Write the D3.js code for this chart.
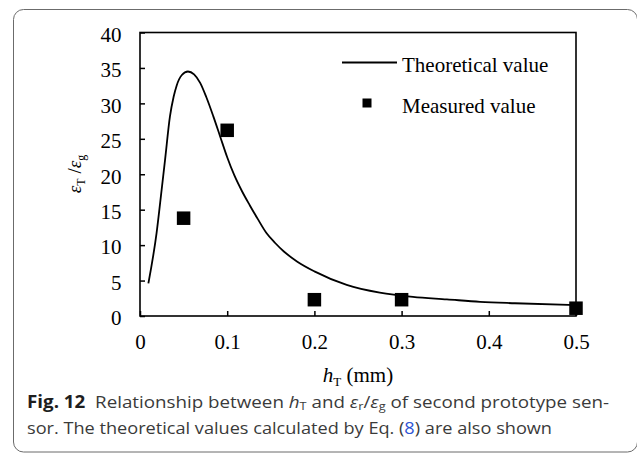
<!DOCTYPE html>
<html>
<head>
<meta charset="utf-8">
<script src="https://cdn.jsdelivr.net/npm/d3@7"></script>
<style>
  html, body { margin: 0; padding: 0; background: #fff; }
  svg { display: block; }
</style>
</head>
<body>
<script>
// Axis ticks
const xTicks = [0, 0.1, 0.2, 0.3, 0.4, 0.5];
const yTicks = [0, 5, 10, 15, 20, 25, 30, 35, 40];

// Theoretical curve (h_T in mm, strain ratio)
const theoryX = [0.0096, 0.019, 0.0248, 0.0287, 0.0344, 0.0385, 0.042, 0.048, 0.055, 0.062, 0.069, 0.076, 0.084, 0.092, 0.100, 0.108, 0.117, 0.126, 0.135, 0.145, 0.155, 0.165, 0.180, 0.200, 0.237, 0.275, 0.313, 0.352, 0.390, 0.430, 0.500];
const theoryY = [4.6, 11.7, 17.8, 22.0, 28.2, 30.9, 32.5, 34.0, 34.5, 34.1, 32.9, 30.9, 28.2, 25.3, 22.4, 19.9, 17.6, 15.6, 13.7, 11.7, 10.3, 9.1, 7.7, 6.3, 4.4, 3.3, 2.7, 2.35, 2.0, 1.8, 1.55];

// Measured values
const measuredX = [0.05, 0.1, 0.2, 0.3, 0.5];
const measuredY = [13.8, 26.2, 2.3, 2.3, 1.1];

// Legend entries
const legendLabels = ["Theoretical value", "Measured value"];

const W = 637, H = 453;
const serif = "'Liberation Serif', 'Times New Roman', serif";
const sans = "'Open Sans', 'Noto Sans', sans-serif";

const svg = d3.select("body").append("svg")
  .attr("width", W).attr("height", H);

// Card outline
svg.append("rect")
  .attr("x", 13.5).attr("y", 9.5)
  .attr("width", 624).attr("height", 442.5)
  .attr("rx", 10).attr("ry", 10)
  .attr("fill", "#fff").attr("stroke", "#6b6b6b").attr("stroke-width", 1);

const plot = { left: 140, right: 576, top: 32.5, bottom: 316 };

const x = d3.scaleLinear().domain([0, 0.5]).range([plot.left, plot.right]);
const y = d3.scaleLinear().domain([0, 40]).range([plot.bottom, plot.top]);

// Y axis
const yAxis = svg.append("g")
  .attr("transform", `translate(${plot.left},0)`)
  .call(d3.axisLeft(y).tickValues(yTicks).tickSize(-5).tickPadding(18.5).tickFormat(d3.format("d")));
yAxis.select(".domain").remove();
yAxis.selectAll(".tick line").attr("stroke", "#000").attr("stroke-width", 1.5);
yAxis.selectAll(".tick text")
  .attr("font-family", serif).attr("font-size", 21).attr("fill", "#000")
  .attr("dy", "0.42em");

// X axis
const xAxis = svg.append("g")
  .attr("transform", `translate(0,${plot.bottom})`)
  .call(d3.axisBottom(x).tickValues(xTicks).tickSize(-5).tickPadding(18.5)
    .tickFormat(d => d === 0 ? "0" : d3.format(".1f")(d)));
xAxis.select(".domain").remove();
xAxis.selectAll(".tick line").attr("stroke", "#000").attr("stroke-width", 1.5);
xAxis.selectAll(".tick text")
  .attr("font-family", serif).attr("font-size", 21).attr("fill", "#000");

// Plot frame
svg.append("rect")
  .attr("x", plot.left).attr("y", plot.top)
  .attr("width", plot.right - plot.left).attr("height", plot.bottom - plot.top)
  .attr("fill", "none").attr("stroke", "#000").attr("stroke-width", 1.6);

// Theoretical curve
const theory = theoryX.map((v, i) => [v, theoryY[i]]);
svg.append("path")
  .datum(theory)
  .attr("fill", "none").attr("stroke", "#000").attr("stroke-width", 1.8)
  .attr("d", d3.line().x(d => x(d[0])).y(d => y(d[1])).curve(d3.curveMonotoneX));

// Measured squares
const sq = 13.5;
svg.append("g").selectAll("rect")
  .data(measuredX.map((v, i) => [v, measuredY[i]]))
  .join("rect")
  .attr("x", d => x(d[0]) - sq / 2).attr("y", d => y(d[1]) - sq / 2)
  .attr("width", sq).attr("height", sq).attr("fill", "#000");

// Legend
const lg = svg.append("g");
lg.append("line").attr("x1", 342).attr("x2", 397).attr("y1", 62.5).attr("y2", 62.5)
  .attr("stroke", "#000").attr("stroke-width", 1.8);
lg.append("text").attr("x", 402).attr("y", 71.5)
  .attr("font-family", serif).attr("font-size", 21).text(legendLabels[0]);
lg.append("rect").attr("x", 362.5).attr("y", 98.5).attr("width", 9).attr("height", 9).attr("fill", "#000");
lg.append("text").attr("x", 402).attr("y", 113)
  .attr("font-family", serif).attr("font-size", 21).text(legendLabels[1]);

// Y axis title: ε_T / ε_g
const yt = svg.append("text")
  .attr("transform", `translate(81,174) rotate(-90)`)
  .attr("text-anchor", "middle")
  .attr("font-family", serif).attr("font-size", 19);
yt.append("tspan").attr("font-style", "italic").text("ε");
yt.append("tspan").attr("font-size", 12).attr("dy", 4).text("T");
yt.append("tspan").attr("dy", -4).text(" /");
yt.append("tspan").attr("font-style", "italic").text("ε");
yt.append("tspan").attr("font-size", 12).attr("dy", 4).text("g");

// X axis title: h_T (mm)
const xt = svg.append("text")
  .attr("x", 358).attr("y", 382)
  .attr("text-anchor", "middle")
  .attr("font-family", serif).attr("font-size", 21);
xt.append("tspan").attr("font-style", "italic").text("h");
xt.append("tspan").attr("font-size", 13).attr("dy", 4).text("T");
xt.append("tspan").attr("dy", -4).text(" (mm)");

// Caption
const capColor = "#3a3a3a";
const capSize = 17, subSize = 11.5;
const c1 = svg.append("text")
  .attr("x", 27).attr("y", 408)
  .attr("font-family", sans).attr("font-size", capSize).attr("fill", capColor)
  .attr("textLength", 582).attr("lengthAdjust", "spacingAndGlyphs");
c1.append("tspan").attr("font-weight", "bold").attr("fill", "#1e1e1e").text("Fig. 12");
c1.append("tspan").text("\u00a0 Relationship between ");
c1.append("tspan").attr("font-style", "italic").text("h");
c1.append("tspan").attr("font-size", subSize).attr("dy", 2).text("T");
c1.append("tspan").attr("dy", -2).text(" and ");
c1.append("tspan").attr("font-style", "italic").text("ε");
c1.append("tspan").attr("font-size", subSize).attr("dy", 2).text("r");
c1.append("tspan").attr("dy", -2).text("/");
c1.append("tspan").attr("font-style", "italic").text("ε");
c1.append("tspan").attr("font-size", subSize).attr("dy", 2).text("g");
c1.append("tspan").attr("dy", -2).text(" of second prototype sen-");

const c2 = svg.append("text")
  .attr("x", 27).attr("y", 434)
  .attr("font-family", sans).attr("font-size", capSize).attr("fill", capColor)
  .attr("textLength", 525).attr("lengthAdjust", "spacingAndGlyphs");
c2.append("tspan").text("sor. The theoretical values calculated by Eq. (");
c2.append("tspan").attr("fill", "#2f55d4").text("8");
c2.append("tspan").text(") are also shown");
</script>
</body>
</html>
